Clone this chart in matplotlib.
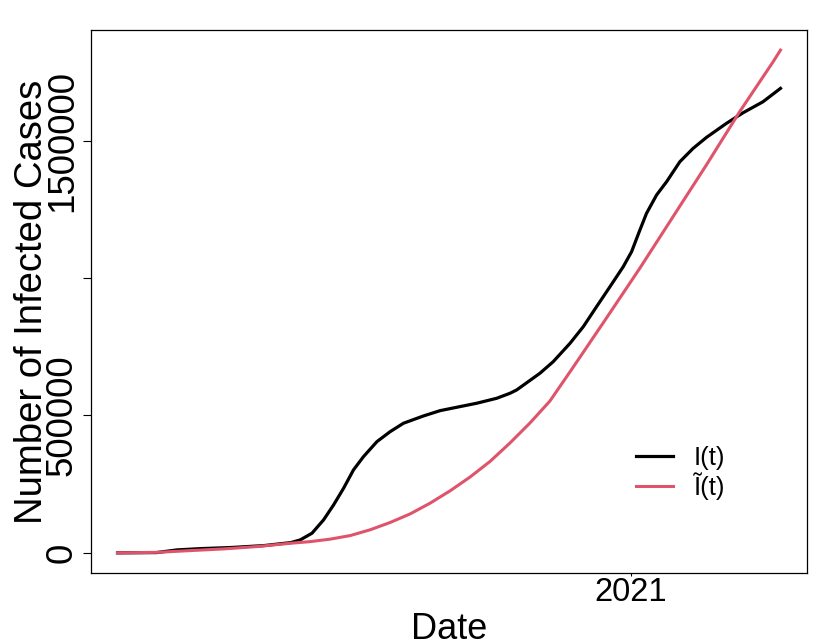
import matplotlib
matplotlib.use("Agg")
import matplotlib.pyplot as plt
import matplotlib.dates as mdates
import pandas as pd

plt.rcParams['font.family'] = ['Liberation Sans', 'DejaVu Sans']

start_date = "2020-03-05"

# observed cumulative infected cases I(t): (days since start, cases)
obs_days = [0, 23, 35, 49, 66, 86, 102, 107.5, 114.4, 121.2, 127.1, 133.0, 138.8,
            144.7, 152.6, 160.4, 168.2, 180.0, 189.8, 199.6, 211.3, 223.1, 230.9,
            234.8, 248.5, 256.3, 266.2, 274.0, 281.8, 289.7, 297.5, 302.4, 307.3,
            311.2, 317.1, 323.0, 330.8, 338.6, 346.5, 358.2, 368.0, 379.7, 390]
obs_cases = [0, 1100, 10900, 15600, 19300, 26500, 37500, 47300, 71600, 120000,
             174500, 235300, 301800, 350200, 404700, 441100, 471600, 498200,
             517500, 529800, 544400, 562500, 580700, 592700, 653500, 695600,
             762500, 822900, 895600, 968400, 1041100, 1095600, 1174500, 1235300,
             1301800, 1350200, 1422900, 1471600, 1511600, 1562500, 1601100,
             1641100, 1689800]

# fitted curve I~(t)
fit_days = [0, 23.3, 42.9, 62.5, 82.1, 101.6, 113.4, 125.1, 136.9, 148.6, 160.4,
            172.2, 183.9, 195.7, 207.4, 219.2, 230.9, 242.7, 254.4, 268.1, 287.7,
            307.3, 326.9, 346.5, 366.1, 385.6, 390]
fit_cases = [0, 2000, 8400, 14500, 23000, 35000, 41000, 50000, 63000, 84000,
             110600, 142000, 181000, 226000, 276000, 333000, 400000, 473000,
             552700, 676000, 855000, 1036000, 1224000, 1412000, 1606000, 1786000,
             1829000]

y_ticks = [0, 500000, 1000000, 1500000]
y_tick_labels = ["0", "500000", "", "1500000"]

t0 = pd.Timestamp(start_date)
obs_x = [t0 + pd.Timedelta(hours=24 * d) for d in obs_days]
fit_x = [t0 + pd.Timedelta(hours=24 * d) for d in fit_days]

fig = plt.figure(figsize=(8.3, 6.42), dpi=100)
ax = fig.add_axes([91/830, (642-573)/642, (807-91)/830, (573-30)/642])

ax.plot(obs_x, obs_cases, color="black", lw=2.3, label="I(t)")
ax.plot(fit_x, fit_cases, color="#DF536B", lw=2.2, label="\u0128(t)")
ax.margins(x=0.04, y=0.04)

ax.xaxis.set_major_locator(mdates.YearLocator())
ax.xaxis.set_major_formatter(mdates.DateFormatter("%Y"))
ax.tick_params(axis='x', length=2.5, width=0.8, pad=0.5, labelsize=23.5, direction='out')

ax.set_yticks(y_ticks)
ax.set_yticklabels(y_tick_labels)
ax.tick_params(axis='y', length=6, width=0.8, pad=2, labelsize=26.5, direction='out')
for lab in ax.get_yticklabels():
    lab.set_rotation(90)
    lab.set_va('center')
    lab.set_ha('right')

for s in ax.spines.values():
    s.set_color("black")
    s.set_linewidth(0.9)

ax.set_ylabel("Number of Infected Cases", fontsize=27.5)
ax.yaxis.set_label_coords((50-91)/716, 0.5)
ax.set_xlabel("Date", fontsize=26)
ax.xaxis.label.set_va('baseline')
ax.xaxis.set_label_coords(0.5, (573-639)/543)

leg = ax.legend(loc='center left', bbox_to_anchor=((636-91)/716, (573-473)/543),
                frameon=False, borderpad=0, borderaxespad=0, handlelength=1.45,
                handletextpad=0.8, labelspacing=0.1,
                prop={'family': ['Liberation Sans', 'DejaVu Sans'], 'size': 18.5})

fig.savefig("out.png", dpi=100)
